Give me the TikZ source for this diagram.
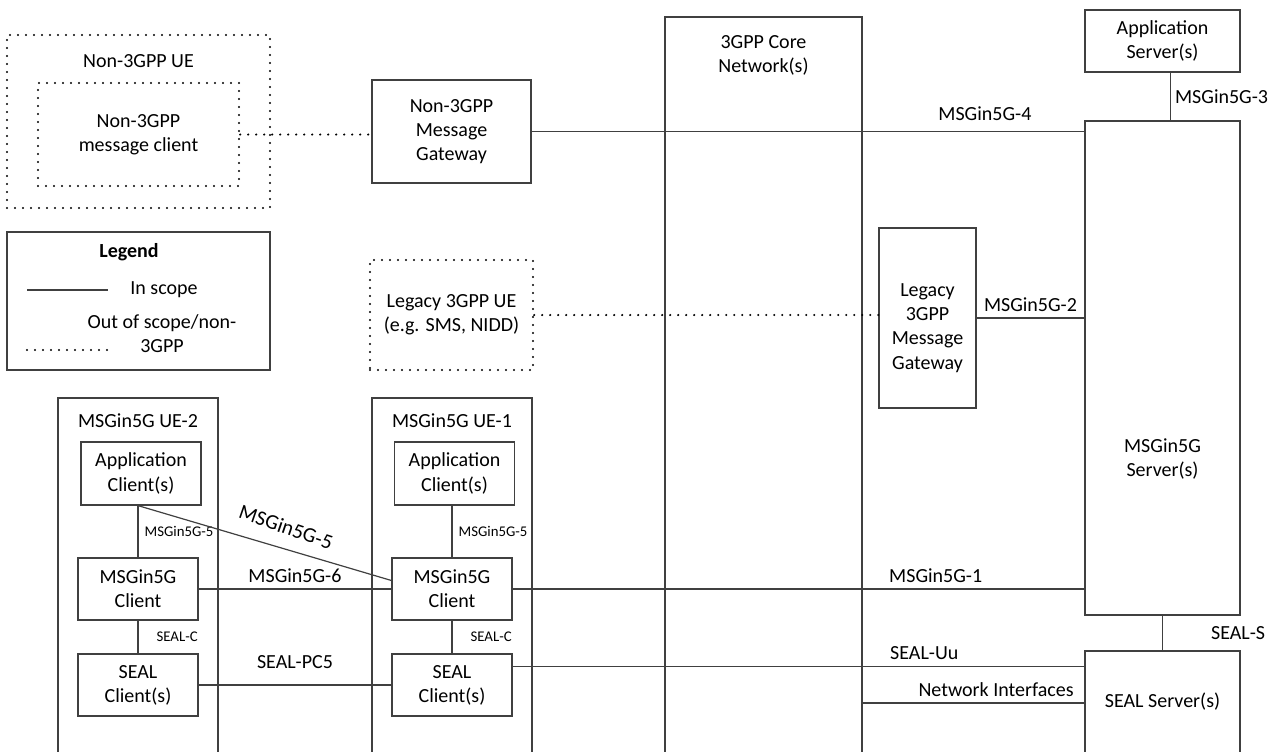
\documentclass[tikz,border=0pt]{standalone}
\usepackage{fontspec}
\setmainfont{Carlito}
\usetikzlibrary{calc}
\newcommand{\mainsz}{\fontsize{10}{12.1}\selectfont}
\newcommand{\smallsz}{\fontsize{7.4}{9}\selectfont}
\tikzset{
  blk/.style={draw=black!75,line width=0.6pt,inner sep=0pt,align=center,font=\mainsz},
  oosblk/.style={draw=black,line width=1.2pt,dash pattern=on 0pt off 4pt,line cap=round,inner sep=0pt,align=center,font=\mainsz},
  lnk/.style={draw=black!75,line width=0.6pt},
  ooslnk/.style={draw=black,line width=1.2pt,dash pattern=on 0pt off 4pt,line cap=round},
  lbl/.style={font=\mainsz,inner sep=0pt,align=center},
  sml/.style={font=\smallsz,inner sep=0pt},
}

\begin{document}
\begin{tikzpicture}[x=0.5pt,y=-0.5pt]
\useasboundingbox (0,0) rectangle (1273,751);
\clip (0,0) rectangle (1273,751);

% non-3GPP side
\node (nue) at (138.5,121.5)[oosblk,minimum width=131.5pt,minimum height=86.5pt] {};
\node (nuet) at (138.5,61)[lbl] {Non-3GPP UE};
\node (nmc) at (138.5,134.5)[oosblk,minimum width=100.5pt,minimum height=51.5pt] {Non-3GPP\\message client};
\node (ngw) at (451.5,131.5)[blk,minimum width=79.5pt,minimum height=51.5pt] {Non-3GPP\\Message\\Gateway};

% legend
\node (leg) at (138.5,301)[blk,minimum width=131.5pt,minimum height=69pt] {};
\node (legt) at (129,252)[lbl,font=\mainsz\bfseries] {Legend};
\coordinate (ls1) at (27,290); \coordinate (ls2) at (108,290);
\draw[lnk] (ls1) -- (ls2);
\node (lin) at (164,290)[lbl] {In scope};
\coordinate (ld1) at (27,350); \coordinate (ld2) at (108,350);
\draw[ooslnk] (ld1) -- (ld2);
\node (lout) at (162,334)[lbl] {Out of scope/non-\\3GPP};

\node (lue) at (451.5,315)[oosblk,minimum width=81.5pt,minimum height=55pt] {Legacy 3GPP UE\\(e.g. SMS, NIDD)};

% core and servers
\node (core) at (763.5,408.5)[blk,minimum width=98.5pt,minimum height=391.5pt] {};
\node (coret) at (763.5,55)[lbl] {3GPP Core\\Network(s)};
\node (lgw) at (927.5,318)[blk,minimum width=48.5pt,minimum height=90pt] {};
\node (lgwt) at (927.5,328)[lbl] {Legacy\\3GPP\\Message\\Gateway};
\node (as) at (1162.5,41)[blk,minimum width=77.5pt,minimum height=31pt] {Application\\Server(s)};
\node (ms) at (1162.5,368)[blk,minimum width=77.5pt,minimum height=247pt] {};
\node (mst) at (1162.5,459)[lbl] {MSGin5G\\Server(s)};
\node (ss) at (1162.5,725.5)[blk,minimum width=77.5pt,minimum height=74.5pt] {};
\node (sst) at (1162.5,702)[lbl] {SEAL Server(s)};

% UE-2
\node (ue2) at (138,599)[blk,minimum width=80pt,minimum height=201pt] {};
\node (ue2t) at (138,421)[lbl] {MSGin5G UE-2};
\node (ac2) at (141,473.5)[blk,minimum width=60pt,minimum height=31.5pt] {Application\\Client(s)};
\node (mc2) at (138,589)[blk,minimum width=60pt,minimum height=31pt] {MSGin5G\\Client};
\node (sc2) at (138,685)[blk,minimum width=60pt,minimum height=31pt] {SEAL\\Client(s)};

% UE-1
\node (ue1) at (452,599)[blk,minimum width=80pt,minimum height=201pt] {};
\node (ue1t) at (452,421)[lbl] {MSGin5G UE-1};
\node (ac1) at (454.5,473.5)[blk,minimum width=60pt,minimum height=31.5pt] {Application\\Client(s)};
\node (mc1) at (452,589)[blk,minimum width=60pt,minimum height=31pt] {MSGin5G\\Client};
\node (sc1) at (452,685)[blk,minimum width=60pt,minimum height=31pt] {SEAL\\Client(s)};

% out of scope links
\draw[ooslnk] (nmc.east) -- (nmc.east -| ngw.west);
\draw[ooslnk] (lue.east) -- (lue.east -| lgw.west);

% reference points
\draw[lnk] (ngw.east) -- (ngw.east -| ms.west) node[lbl,pos=0.82,above=5pt] {MSGin5G-4};
\draw[lnk] ([xshift=4pt]as.south) -- ([xshift=4pt]ms.north) node[lbl,midway,right=2pt] {MSGin5G-3};
\draw[lnk] (lgw.east) -- (lgw.east -| ms.west) node[lbl,midway,above=3pt] {MSGin5G-2};
\draw[lnk] (mc1.east) -- (mc1.east -| ms.west) node[lbl,pos=0.74,above=3pt] {MSGin5G-1};
\draw[lnk] (sc1.17) -- (sc1.17 -| ss.west) node[lbl,pos=0.72,above=3pt] {SEAL-Uu};
\coordinate (ni) at (1085,703);
\draw[lnk] (ni) -- (ni -| core.east) node[lbl,pos=0.4,above=3pt] {Network Interfaces};
\draw[lnk] (ms.south) -- (ss.north) node[lbl,midway,right=24pt] {SEAL-S};

\draw[lnk] (mc2.north |- ac2.south) -- (mc2.north) node[sml,midway,right=3pt] {MSGin5G-5};
\draw[lnk] (mc2.south) -- (sc2.north) node[sml,midway,right=9pt] {SEAL-C};
\draw[lnk] (mc1.north) -- (mc1.north |- ac1.south) node[sml,midway,right=3pt] {MSGin5G-5};
\draw[lnk] (mc1.south) -- (sc1.north) node[sml,midway,right=9pt] {SEAL-C};
\draw[lnk] (mc2.north |- ac2.south) -- (mc1.172);
\node (l5d) at (286,527)[lbl,font=\fontsize{10.5}{12}\selectfont,rotate=-19] {MSGin5G-5};
\draw[lnk] (mc2.east) -- (mc1.west) node[lbl,midway,above=3pt] {MSGin5G-6};
\draw[lnk] (sc2.east) -- (sc1.west) node[lbl,midway,above=8pt] {SEAL-PC5};
\end{tikzpicture}
\end{document}
